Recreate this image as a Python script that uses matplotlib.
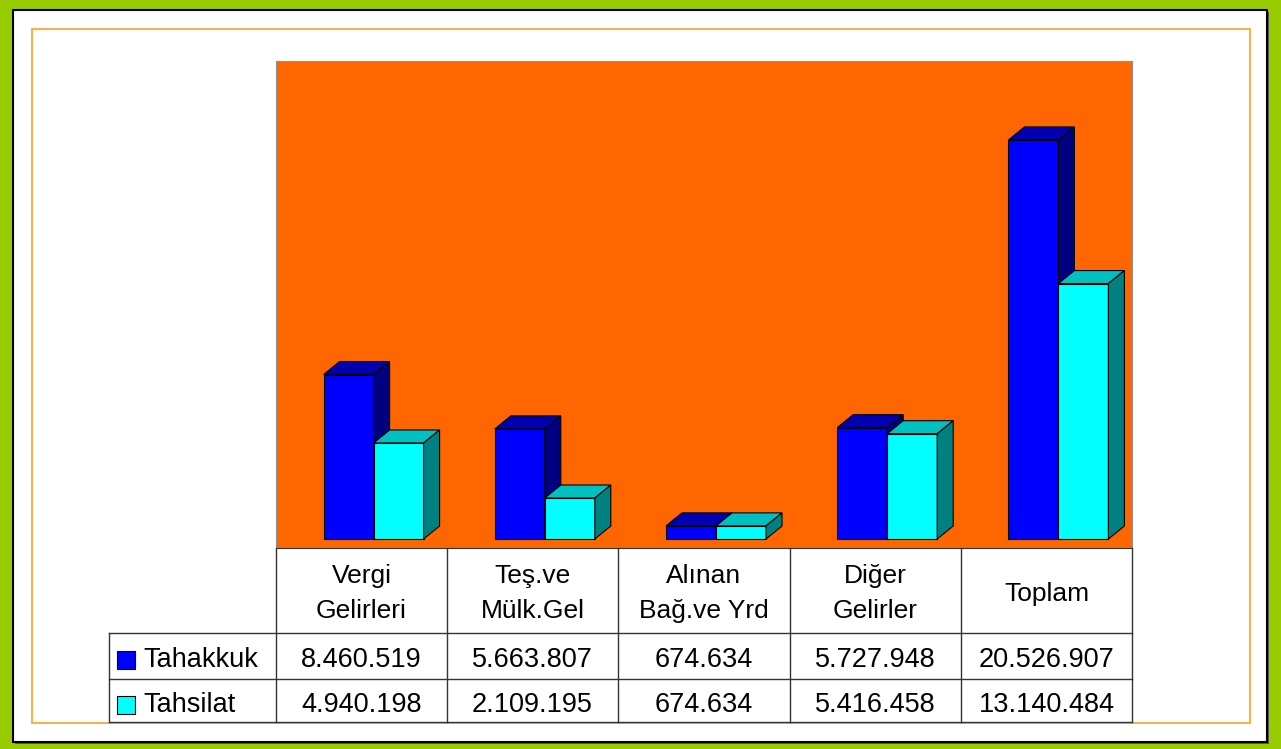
import matplotlib
matplotlib.use("Agg")
import matplotlib.pyplot as plt
from matplotlib.patches import Rectangle, Polygon

plt.rcParams['font.family'] = ['Liberation Sans', 'DejaVu Sans']

categories = ['Vergi\nGelirleri', 'Teş.ve\nMülk.Gel', 'Alınan\nBağ.ve Yrd', 'Diğer\nGelirler', 'Toplam']
series = ['Tahakkuk', 'Tahsilat']
tahakkuk = [8460519, 5663807, 674634, 5727948, 20526907]
tahsilat = [4940198, 2109195, 674634, 5416458, 13140484]

W, H = 1281, 749
fig = plt.figure(figsize=(W / 100, H / 100), dpi=100)
fig.patch.set_facecolor('#99CC00')

# background / frame axes in pixel coordinates
bg = fig.add_axes([0, 0, 1, 1])
bg.set_xlim(0, W)
bg.set_ylim(H, 0)
bg.axis('off')
bg.add_patch(Rectangle((15, 12), 1254, 732, facecolor='#555555', edgecolor='none'))
bg.add_patch(Rectangle((13, 10), 1254, 732, facecolor='white', edgecolor='black', lw=1.5))
bg.add_patch(Rectangle((32, 29), 1218, 694, fill=False, edgecolor='#FFA020', lw=1.2))

# plot area (orange)
ax = fig.add_axes([276 / W, (H - 548) / H, 856 / W, 487 / H], zorder=3)
ax.set_facecolor('#FF6600')
ax.set_xlim(-0.5, len(categories) - 0.5)
px_per_val = 19.44 / 1e6
ax.set_ylim(-9 / px_per_val, 478 / px_per_val)
ax.set_xticks([])
ax.set_yticks([])
for side in ['top', 'right', 'left']:
    ax.spines[side].set_color('#909090')
ax.spines['bottom'].set_color('#333333')

bw = 50 / 171.2
x0 = -38 / 171.2
dx = 16 / 171.2
dy = 13 / px_per_val

colors = [('#0000FF', '#0000B0', '#000080'), ('#00FFFF', '#00C0C0', '#008080')]


def box(ax, x, h, cols):
    front, top, side = cols
    kw = dict(edgecolor='black', lw=0.8, joinstyle='miter')
    ax.add_patch(Polygon([(x, 0), (x + bw, 0), (x + bw, h), (x, h)], facecolor=front, **kw))
    ax.add_patch(Polygon([(x, h), (x + bw, h), (x + bw + dx, h + dy), (x + dx, h + dy)],
                         facecolor=top, **kw))
    ax.add_patch(Polygon([(x + bw, 0), (x + bw + dx, dy), (x + bw + dx, h + dy), (x + bw, h)],
                         facecolor=side, **kw))


for i in range(len(categories)):
    for j, vals in enumerate([tahakkuk, tahsilat]):
        box(ax, i + x0 + j * bw, vals[i], colors[j])

# data table under the plot
col_x = [276, 447, 618, 790, 961, 1132]
row_y = [548, 633, 679, 722]
lc = '#333333'
for x in col_x:
    bg.plot([x, x], [row_y[0], row_y[-1]], color=lc, lw=1)
bg.plot([109, 109], [row_y[1], row_y[-1]], color=lc, lw=1)
for y in row_y[1:]:
    bg.plot([109, col_x[-1]], [y, y], color=lc, lw=1)

fs = 19.5
for i, lab in enumerate(categories):
    cx = (col_x[i] + col_x[i + 1]) / 2
    lines = lab.split('\n')
    bases = [583, 618] if len(lines) == 2 else [601]
    for ln, yb in zip(lines, bases):
        bg.text(cx, yb, ln, ha='center', va='baseline', fontsize=19, color='black')

fmt = lambda v: f"{v:,}".replace(',', '.')
for r, (name, vals) in enumerate(zip(series, [tahakkuk, tahsilat])):
    yb = [667, 712][r]
    bg.add_patch(Rectangle((117, yb - 16), 18, 18, facecolor=colors[r][0],
                           edgecolor='black', lw=0.8))
    bg.text(143, yb, name, ha='left', va='baseline', fontsize=fs, color='black')
    for i, v in enumerate(vals):
        cx = (col_x[i] + col_x[i + 1]) / 2
        bg.text(cx, yb, fmt(v), ha='center', va='baseline', fontsize=fs, color='black')

fig.savefig('out.png', dpi=100, facecolor=fig.get_facecolor())
